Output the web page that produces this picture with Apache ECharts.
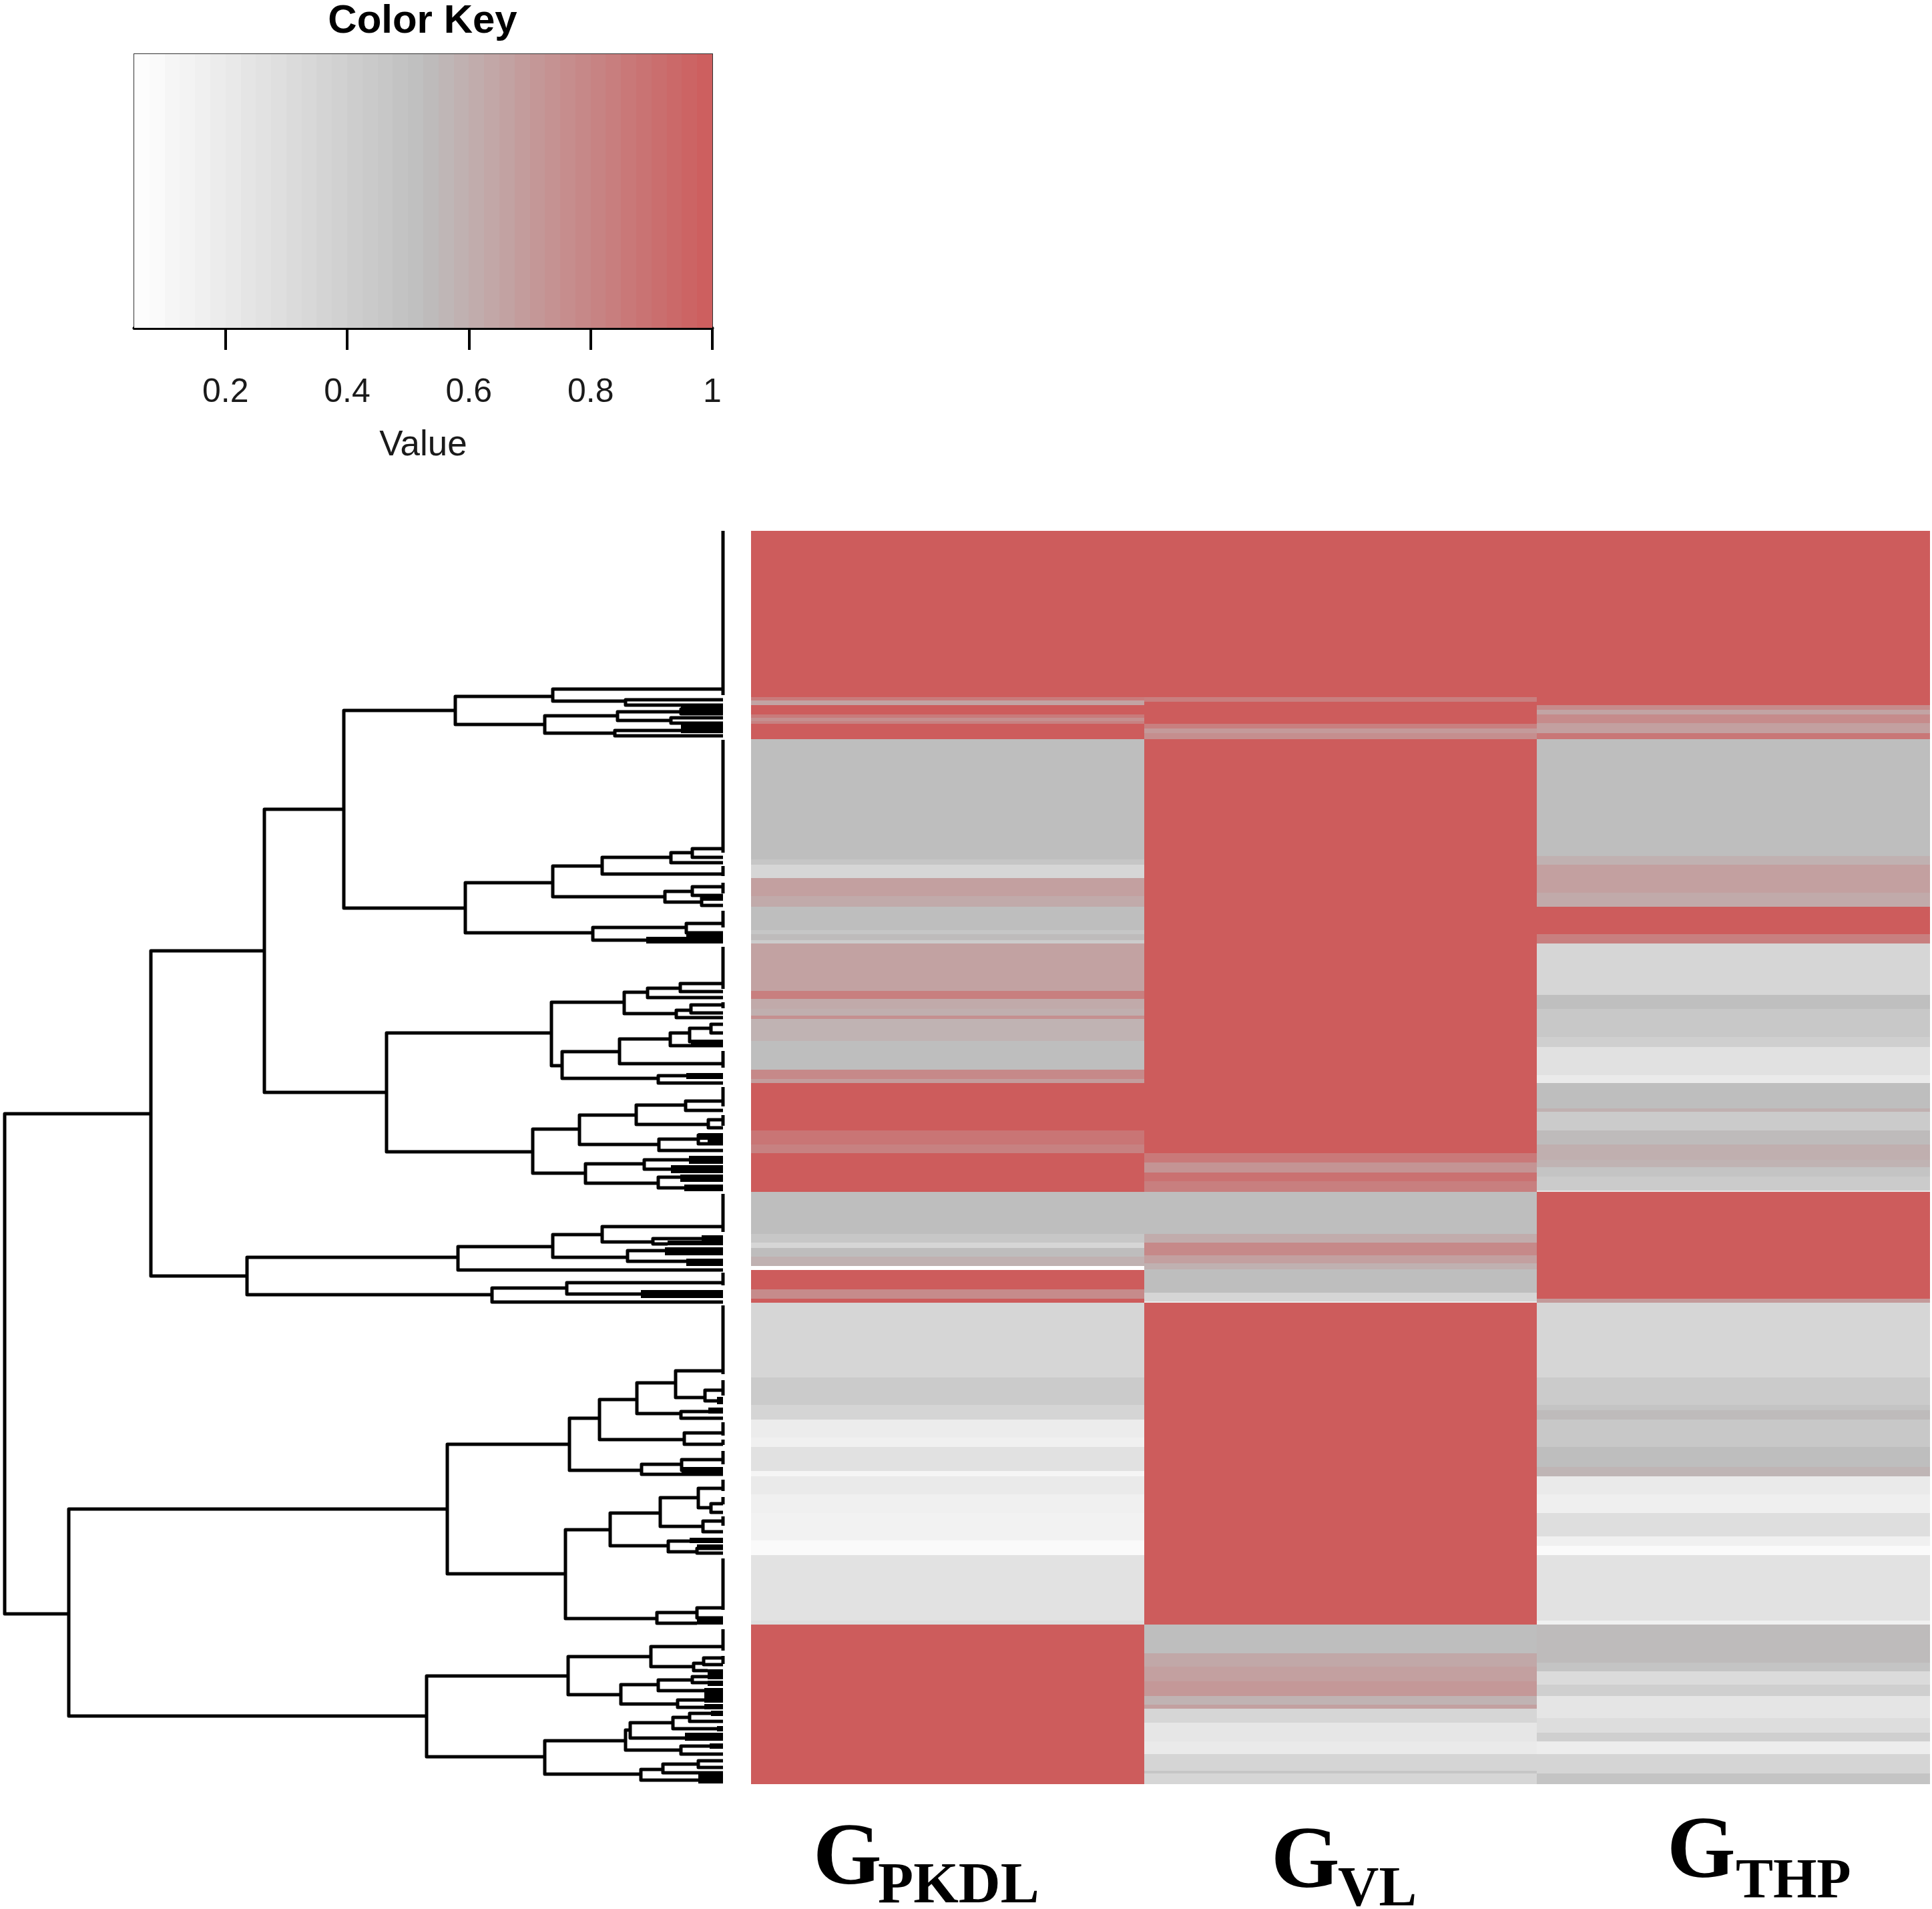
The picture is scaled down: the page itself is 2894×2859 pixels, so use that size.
<!DOCTYPE html>
<html>
<head>
<meta charset="utf-8">
<style>html,body{margin:0;background:#fff}#chart{width:2894px;height:2859px}</style>
<script src="https://cdn.jsdelivr.net/npm/echarts@6/dist/echarts.min.js"></script>
</head>
<body>
<div id="chart"></div>
<script>
// leaf positions run 0..1877 top to bottom, each band is [end position, value]
const groups = ['PKDL', 'VL', 'THP'];
const gPkdl = [[249,1],[254,.85],[261,.65],[275,1],[280,.85],[285,.75],[289,.82],[312,1],[492,.525],[500,.47],[520,.35],[547,.67],[563,.62],[598,.525],[604,.47],[613,.54],[618,.42],[689,.66],[701,.83],[716,.62],[726,.6],[731,.75],[764,.58],[807,.525],[821,.78],[827,.68],[898,1],[919,.88],[932,.82],[990,1],[1053,.525],[1066,.46],[1074,.35],[1087,.53],[1101,.59],[1107,.05],[1136,1],[1150,.77],[1156,1],[1268,.35],[1309,.43],[1331,.355],[1358,.19],[1372,.16],[1408,.27],[1416,.12],[1443,.2],[1471,.16],[1512,.145],[1534,.087],[1632,.26],[1638,.3],[1877,1]];
const gVl = [[249,1],[256,.83],[289,1],[296,.83],[303,.7],[312,.76],[932,1],[946,.86],[961,.73],[974,.9],[990,.83],[1053,.525],[1066,.61],[1085,.78],[1097,.67],[1106,.59],[1141,.525],[1154,.36],[1156,.2],[1638,1],[1681,.525],[1701,.63],[1723,.67],[1745,.71],[1758,.58],[1764,.67],[1785,.35],[1813,.23],[1832,.2],[1857,.36],[1861,.47],[1877,.35]];
const gThp = [[261,1],[268,.77],[275,.65],[288,.77],[303,.67],[312,.87],[487,.525],[500,.59],[542,.67],[563,.62],[604,1],[618,.83],[695,.35],[716,.52],[758,.455],[773,.4],[815,.27],[827,.2],[865,.525],[870,.59],[898,.43],[919,.54],[942,.6],[953,.58],[967,.48],[988,.43],[990,.23],[1150,1],[1156,.7],[1268,.35],[1309,.43],[1317,.48],[1331,.54],[1372,.455],[1402,.525],[1416,.57],[1443,.2],[1471,.17],[1506,.29],[1520,.16],[1534,.09],[1632,.26],[1638,.16],[1695,.54],[1708,.48],[1728,.31],[1745,.4],[1778,.24],[1800,.3],[1813,.4],[1832,.18],[1861,.36],[1877,.48]];
const bands = [gPkdl, gVl, gThp];

const keyBreaks = [.05,.075,.1,.125,.15,.175,.2,.225,.25,.275,.3,.325,.35,.375,.4,.425,.45,.475,.5,.525,.55,.575,.6,.625,.65,.675,.7,.725,.75,.775,.8,.825,.85,.875,.9,.925,.95,.975,1];
const keyTicks = [.2,.4,.6,.8,1];

// dendrogram merges: [depth of merge, top y, top child depth, bottom y, bottom child depth]
const LEAF = 1083;
const merges = [
  [7,873,226,1622,103],
  [226,629,396,1116,370],[396,417,515,841,579],[515,269,682,565,697],[682,248,828,290,816],
  [828,237,LEAF,255,937],[937,253,LEAF,261,LEAF],[816,277,925,303,921],[925,271,1020,284,1005],
  [1020,267,LEAF,274,LEAF],[1005,280,LEAF,288,LEAF],[921,299,1020,307,LEAF],
  [697,527,828,602,888],[828,502,902,548,996],[902,489,1005,514,LEAF],[1005,482,1037,497,LEAF],
  [1037,476,LEAF,489,LEAF],[996,540,1037,556,1051],[1037,533,LEAF,546,LEAF],[1051,549,LEAF,561,LEAF],
  [888,594,1028,613,968],[1028,588,LEAF,602,LEAF],
  [579,752,826,930,798],[826,706,935,801,842],[935,691,970,723,1013],[970,685,1019,699,LEAF],
  [1019,678,LEAF,690,LEAF],[1013,718,1035,729,LEAF],[1035,710,LEAF,722,LEAF],[842,780,928,820,986],
  [928,761,1004,798,LEAF],[1004,752,1033,771,LEAF],[1033,745,1065,765,LEAF],[1065,739,LEAF,752,LEAF],
  [986,816,1028,827,LEAF],
  [798,896,868,962,877],[868,875,953,919,987],[953,860,1027,889,1061],[1027,854,LEAF,868,LEAF],
  [1061,882,LEAF,894,LEAF],[987,911,1046,928,LEAF],[1046,905,LEAF,918,LEAF],[877,948,965,977,986],
  [965,942,1032,956,1005],[986,968,1019,984,1025],
  [370,1088,686,1144,737],[686,1072,828,1107,LEAF],[828,1054,902,1088,940],[902,1042,LEAF,1065,978],
  [978,1060,1051,1068,1000],[940,1078,996,1094,1028],[737,1134,849,1155,LEAF],[849,1126,LEAF,1143,960],
  [103,1465,670,1775,639],[670,1368,853,1562,847],[853,1329,898,1407,961],[898,1301,954,1361,1025],
  [954,1276,1012,1322,1020],[1012,1258,LEAF,1298,1056],[1056,1287,LEAF,1303,1074],[1020,1319,1061,1329,LEAF],
  [1025,1351,LEAF,1368,LEAF],[961,1398,1021,1413,LEAF],[1021,1391,LEAF,1407,LEAF],
  [847,1496,914,1629,984],[914,1471,989,1520,1001],[989,1448,1046,1491,1053],[1046,1434,LEAF,1463,1065],
  [1065,1457,LEAF,1470,LEAF],[1053,1483,LEAF,1499,LEAF],[1001,1513,1033,1529,1044],[1044,1524,LEAF,1531,LEAF],
  [984,1620,1044,1636,1044],[1044,1613,LEAF,1628,LEAF],
  [639,1715,851,1836,816],[851,1686,975,1743,930],[975,1671,LEAF,1701,1039],[1039,1696,1054,1707,1060],
  [1054,1688,LEAF,1698,LEAF],[930,1728,986,1757,1015],[986,1721,1037,1737,1060],[1037,1716,1060,1725,1060],
  [1015,1751,1055,1762,1055],
  [816,1812,937,1862,960],[937,1796,944,1826,1020],[944,1785,1008,1808,1026],[1008,1777,1033,1794,1074],
  [1033,1771,1065,1783,LEAF],[1020,1820,1063,1832,LEAF],[960,1855,993,1871,1046],[993,1847,1046,1860,LEAF],
  [1046,1842,LEAF,1852,LEAF]
];
// tight runs of leaves that read as solid black: [depth, from y, to y]
const fans = [[1020,262,276],[1020,288,303],[1051,546,554],[1028,602,613],[968,608,618],[1035,762,771],[1028,812,821],
  [1046,902,912],[1060,912,920],[1032,936,948],[1005,950,962],[1019,964,975],[1025,979,989],[1051,1055,1063],[1000,1063,1070],
  [996,1073,1085],[1028,1090,1101],[960,1137,1149],[1074,1297,1308],[1061,1313,1322],[1021,1402,1414],[1033,1508,1516],
  [1044,1518,1526],[1044,1630,1638],[1060,1705,1715],[1060,1711,1720],[1060,1722,1730],[1055,1733,1748],[1055,1745,1755],
  [1055,1757,1765],[1065,1767,1775],[1074,1790,1798],[1026,1800,1812],[1063,1816,1824],[1046,1860,1876]];
// stretches of zero height leaves along the right edge
const leafRuns = [[0,246],[313,482],[502,517],[527,543],[569,594],[623,686],[706,715],[779,804],[833,862],[875,891],[993,1050],
  [1111,1130],[1160,1263],[1272,1295],[1335,1355],[1361,1369],[1378,1398],[1421,1438],[1447,1458],[1476,1490],[1539,1616],[1645,1677],[1685,1697]];

// G label placement, one per group
const labelAt = [
  { gx: 1218, gy: 2787, sx: 1315, sy: 2827, size: 87 },
  { gx: 1904, gy: 2792, sx: 2004, sy: 2832, size: 85 },
  { gx: 2497, gy: 2777, sx: 2600, sy: 2820, size: 84 }
];

let heatData = [];
bands.forEach((list, col) => {
  let start = 0;
  list.forEach(b => {
    heatData.push([col, start, b[0], b[1]]);
    start = b[0];
  });
});

let keyData = [];
for (let i = 0; i < keyBreaks.length - 1; i++) {
  keyData.push([keyBreaks[i], keyBreaks[i + 1], 0, (keyBreaks[i] + keyBreaks[i + 1]) / 2]);
}

const renderHeat = (params, api) => {
  let w = api.size([1, 0])[0];
  let a = api.coord([api.value(0), api.value(1)]);
  let b = api.coord([api.value(0), api.value(2)]);
  let x0 = Math.round(a[0] - w / 2), x1 = Math.round(a[0] + w / 2);
  let y0 = Math.round(a[1]), y1 = Math.round(b[1]);
  return {
    type: 'rect',
    shape: { x: x0, y: y0, width: x1 - x0, height: y1 - y0 },
    style: { fill: api.visual('color') }
  };
};

const renderKey = (params, api) => {
  let a = api.coord([api.value(0), 0]);
  let b = api.coord([api.value(1), 1]);
  let x0 = Math.round(a[0]), x1 = Math.round(b[0]);
  return {
    type: 'rect',
    shape: { x: x0, y: b[1], width: x1 - x0, height: a[1] - b[1] },
    style: { fill: api.visual('color') }
  };
};

const renderMerge = (params, api) => {
  let d = api.value(0), y1 = api.value(1), d1 = api.value(2), y2 = api.value(3), d2 = api.value(4);
  return {
    type: 'polyline',
    shape: { points: [api.coord([d1, y1]), api.coord([d, y1]), api.coord([d, y2]), api.coord([d2, y2])] },
    style: { stroke: '#000', fill: null, lineWidth: 5, lineJoin: 'round' }
  };
};

const renderFan = (params, api) => {
  let a = api.coord([api.value(0), api.value(1)]);
  let b = api.coord([LEAF, api.value(2)]);
  return {
    type: 'rect',
    shape: { x: a[0], y: a[1], width: b[0] - a[0], height: b[1] - a[1] },
    style: { fill: '#000' }
  };
};

const renderRun = (params, api) => {
  let a = api.coord([LEAF, api.value(0)]);
  let b = api.coord([LEAF, api.value(1)]);
  return {
    type: 'line',
    shape: { x1: a[0], y1: a[1], x2: b[0], y2: b[1] },
    style: { stroke: '#000', lineWidth: 5 }
  };
};

let labels = [];
groups.forEach((name, i) => {
  let at = labelAt[i];
  labels.push({ type: 'text', style: { x: at.gx, y: at.gy, text: 'G', fill: '#000', verticalAlign: 'middle',
    font: 'bold 132px "Liberation Serif"' } });
  labels.push({ type: 'text', style: { x: at.sx, y: at.sy, text: name, fill: '#000', verticalAlign: 'middle',
    font: 'bold ' + at.size + 'px "Liberation Serif"' } });
});

var myChart = echarts.init(document.getElementById('chart'), null, { renderer: 'canvas' });
myChart.setOption({
  animation: false,
  backgroundColor: '#fff',
  textStyle: { fontFamily: '"Liberation Sans"' },
  title: {
    text: 'Color Key', left: 628, top: -3, textAlign: 'center',
    textStyle: { fontSize: 60, fontWeight: 'bold', color: '#000', fontFamily: '"Liberation Sans"' }
  },
  visualMap: {
    show: false, type: 'continuous', min: 0.05, max: 1, dimension: 3, seriesIndex: [0, 1],
    inRange: { color: ['#ffffff', '#bebebe', '#cd5c5c'] }
  },
  grid: [
    { left: 201, top: 81, width: 866, height: 410, show: true, borderColor: '#333', borderWidth: 2, backgroundColor: 'transparent' },
    { left: 1125, top: 795, width: 1766, height: 1877 },
    { left: 0, top: 795, width: 1090, height: 1877 }
  ],
  xAxis: [
    {
      gridIndex: 0, type: 'value', min: 0.05, max: 1, splitLine: { show: false },
      axisLine: { lineStyle: { color: '#000', width: 5 } },
      axisTick: { show: true, length: 33, customValues: keyTicks, lineStyle: { color: '#000', width: 4 } },
      axisLabel: { show: true, customValues: keyTicks, margin: 72, fontSize: 50, color: '#1a1a1a', formatter: v => String(v), showMinLabel: true, showMaxLabel: true },
      name: 'Value', nameLocation: 'middle', nameGap: 150, nameTextStyle: { fontSize: 53, color: '#1a1a1a' }
    },
    { gridIndex: 1, type: 'category', data: groups, show: false },
    { gridIndex: 2, type: 'value', min: 0, max: 1090, show: false }
  ],
  yAxis: [
    { gridIndex: 0, type: 'value', min: 0, max: 1, show: false },
    { gridIndex: 1, type: 'value', min: 0, max: 1877, inverse: true, show: false },
    { gridIndex: 2, type: 'value', min: 0, max: 1877, inverse: true, show: false }
  ],
  series: [
    { type: 'custom', xAxisIndex: 1, yAxisIndex: 1, renderItem: renderHeat, encode: { x: 0, y: [1, 2] }, data: heatData },
    { type: 'custom', xAxisIndex: 0, yAxisIndex: 0, renderItem: renderKey, encode: { x: [0, 1], y: 2 }, data: keyData, z: 1 },
    { type: 'custom', xAxisIndex: 2, yAxisIndex: 2, renderItem: renderMerge, encode: { x: [0, 2, 4], y: [1, 3] }, data: merges },
    { type: 'custom', xAxisIndex: 2, yAxisIndex: 2, renderItem: renderFan, encode: { x: 0, y: [1, 2] }, data: fans },
    { type: 'custom', xAxisIndex: 2, yAxisIndex: 2, renderItem: renderRun, encode: { y: [0, 1] }, data: leafRuns }
  ],
  graphic: labels
});
</script>
</body>
</html>
